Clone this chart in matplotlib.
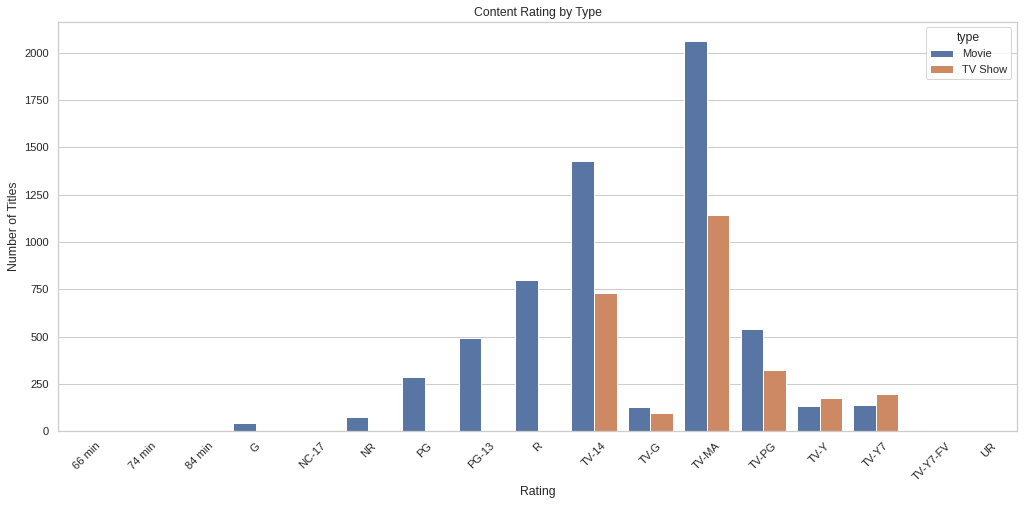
import pandas as pd
import numpy as np
import matplotlib
matplotlib.use("Agg")
import matplotlib.pyplot as plt
import seaborn as sns

ratings = ["66 min", "74 min", "84 min", "G", "NC-17", "NR", "PG", "PG-13", "R",
           "TV-14", "TV-G", "TV-MA", "TV-PG", "TV-Y", "TV-Y7", "TV-Y7-FV", "UR"]
movie_counts = [1, 1, 1, 41, 3, 75, 287, 490, 797,
                1427, 126, 2062, 540, 131, 139, 5, 3]
show_counts = [0, 0, 0, 0, 0, 5, 0, 0, 2,
               733, 94, 1145, 323, 176, 195, 1, 0]
types = ["Movie", "TV Show"]

df = pd.DataFrame({
    "rating": ratings * 2,
    "type": [types[0]] * len(ratings) + [types[1]] * len(ratings),
    "count": movie_counts + show_counts,
})

sns.set_theme(style="whitegrid")
plt.rcParams["font.family"] = ["Liberation Sans", "DejaVu Sans"]

dpi = 1024 / 14
fig, ax = plt.subplots(figsize=(14, 506 / dpi), dpi=dpi)
fig.subplots_adjust(left=0.057, right=0.993, top=0.957, bottom=0.148)

sns.barplot(data=df, x="rating", y="count", hue="type", order=ratings,
            hue_order=types, ax=ax)

ax.set_title("Content Rating by Type")
ax.set_xlabel("Rating")
ax.set_ylabel("Number of Titles")
plt.setp(ax.get_xticklabels(), rotation=45)
ax.set_ylim(0, 2165)

fig.savefig("out.png", dpi=dpi)
